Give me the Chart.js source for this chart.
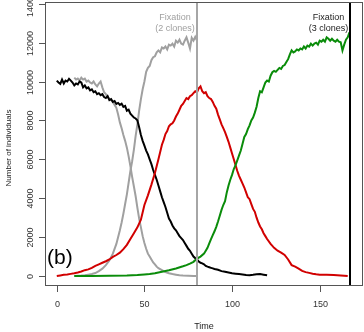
<!DOCTYPE html>
<html><head><meta charset="utf-8">
<script src="https://cdn.jsdelivr.net/npm/chart.js@4/dist/chart.umd.min.js"></script>
<style>html,body{margin:0;padding:0;background:#fff}#wrap{width:364px;height:332px}</style>
</head><body><div id="wrap"><canvas id="c" width="364" height="332"></canvas></div>
<script>
// ---- data ----
const blackTime = [0,1,2,3,4,5,6,7,8,9,10,11,12,13,14,15,16,17,18,19,20,21,22,23,24,25,26,27,28,29,30,31,32,33,34,35,36,37,38,39,40,41,42,43,44,45,46,47,48,49,50,51,52,53,54,55,56,57,58,59,60,61,62,63,64,65,66,67,68,69,70,71,72,73,74,75,76,77,78,79,80,81,82,83,84,85,86,87,88,89,90,92,94,96,98,100,102,104,106,108,110,112,114,116,118,120];
const blackCount = [10050,9950,9880,10100,9900,10050,10000,10140,10050,9950,9800,9900,9850,10000,9950,9700,9800,9650,9700,9550,9600,9450,9500,9350,9400,9300,9350,9200,9150,9250,9050,9100,8950,9000,8850,8900,8800,8860,8700,8750,8500,8550,8350,8250,8150,8100,8000,7650,7250,6950,6700,6450,6250,6000,5750,5450,5200,4950,4650,4350,4050,3800,3550,3250,2950,2800,2600,2450,2350,2200,2050,1950,1850,1700,1550,1400,1300,1150,1000,920,850,750,680,650,600,520,480,450,420,390,360,320,250,220,180,140,120,100,80,50,40,60,90,100,70,40];

const greyDownTime = [10,11,12,13,14,15,16,17,18,19,20,21,22,23,24,25,26,27,28,29,30,31,32,33,34,35,36,37,38,39,40,41,42,43,44,45,46,47,48,49,50,51,52,53,54,55,56,57,58,60,62,64,66,68,70,72,75,78,80];
const greyDownCount = [10200,10100,10150,10050,10200,10100,10150,10000,10050,9950,9900,10000,9850,9750,9900,10000,9700,9450,9350,9200,9100,9050,8950,8800,8650,8300,7900,7600,7250,6950,6600,6150,5650,5100,4600,4100,3500,2950,2500,2050,1700,1400,1150,1000,850,700,600,480,400,300,200,140,100,70,40,20,10,0,0];

const greyUpTime = [10,12,14,16,18,20,22,24,26,28,30,32,34,36,37,38,39,40,41,42,43,44,45,46,47,48,49,50,51,52,53,54,55,56,57,58,59,60,61,62,63,64,65,66,67,68,69,70,71,72,73,74,75,76,77,78,79,80];
const greyUpCount = [0,10,20,40,70,100,150,250,380,560,800,1150,1650,2350,2750,3200,3700,4200,4800,5400,5900,6500,7200,7800,8500,9100,9600,10000,10500,10700,10800,11100,11250,11300,11500,11600,11500,11750,11700,11800,11650,11900,11850,11950,11800,12100,12000,12150,11950,11900,12100,12270,12000,11700,12250,12100,12300,12100];

const redTime = [0,2,4,6,8,10,12,14,16,18,20,22,24,26,28,30,32,34,36,38,40,42,44,46,48,50,52,54,56,58,60,61,62,63,64,65,66,67,68,69,70,71,72,73,74,75,76,77,78,79,80,81,82,83,84,85,86,87,88,89,90,91,92,93,94,95,96,97,98,99,100,101,102,103,104,105,106,107,108,109,110,111,112,113,114,115,116,117,118,119,120,122,124,126,128,130,132,134,136,138,140,142,144,146,148,150,154,158,162,166];
const redCount = [0,30,60,80,110,140,180,230,300,340,420,520,600,680,760,850,980,1080,1200,1380,1600,1900,2200,2500,2900,3650,4150,4700,5300,6000,6750,7000,7300,7450,7700,7800,7850,8000,8200,8350,8550,8750,8850,9000,9150,9100,9250,9300,9400,9500,9450,9650,9750,9500,9400,9450,9250,9150,9100,8950,8750,8600,8300,8050,7800,7600,7400,7150,6900,6600,6300,6000,5700,5400,5150,4950,4750,4550,4300,4050,3950,3700,3450,3300,3000,2750,2550,2400,2200,2050,1900,1650,1450,1300,1200,1080,850,560,480,380,260,200,160,120,90,70,60,50,30,0];

const greenTime = [10,20,30,40,46,50,53,56,60,64,68,72,74,76,78,80,82,84,85,86,87,88,89,90,91,92,93,94,95,96,97,98,99,100,101,102,103,104,105,106,107,108,109,110,111,112,113,114,115,116,117,118,119,120,121,122,123,124,125,126,127,128,129,130,131,132,133,134,135,136,137,138,139,140,141,142,143,144,145,146,147,148,149,150,151,152,153,154,155,156,157,158,159,160,161,162,163,164,165,166,167];
const greenCount = [0,0,10,20,50,80,100,140,220,300,390,500,560,640,730,900,1000,1150,1300,1450,1680,1900,2100,2300,2530,2800,3100,3400,3650,3850,4300,4650,4950,5200,5500,5700,5950,6200,6450,6800,7150,7300,7550,7750,8000,8150,8400,8700,9150,9500,9450,9700,9950,10050,10000,10300,10480,10550,10500,10600,10700,10650,10800,10850,11000,11150,11400,11600,11500,11550,11650,11600,11700,11650,11800,11700,11850,11800,11950,11850,11950,12000,11900,12100,12050,12150,12050,12270,12200,12100,12200,12100,12050,12150,12050,12020,11600,11900,12150,12270,12530];

const xTicks = [0, 50, 100, 150];
const yTicks = [0, 2000, 4000, 6000, 8000, 10000, 12000, 14000];
const fixationTimes = [80, 167.5];
const fixationColors = ['#a6a6a6', '#000000'];
const fixationLabelTimes = [67.5, 155];
const fixationLabels = [['Fixation', '(2 clones)'], ['Fixation', '(3 clones)']];
const xTitle = 'Time';
const yTitle = 'Number of individuals';
const panelLabel = '(b)';

const pts = (t, n) => t.map((v, i) => ({x: v, y: n[i]}));
const FONT = '"Liberation Sans", Arial, sans-serif';

const decor = {
  id: 'decor',
  afterDatasetsDraw(chart) {
    const {ctx, chartArea: a, scales: {x, y}} = chart;
    ctx.save();
    // fixation lines
    fixationTimes.forEach((t, i) => {
      const px = Math.round(x.getPixelForValue(t)) ;
      ctx.strokeStyle = fixationColors[i];
      ctx.lineWidth = 2;
      ctx.beginPath(); ctx.moveTo(px, a.top); ctx.lineTo(px, a.bottom); ctx.stroke();
    });
    // fixation labels
    ctx.font = '9px ' + FONT;
    ctx.textAlign = 'center'; ctx.textBaseline = 'alphabetic';
    fixationLabels.forEach((lines, i) => {
      const px = x.getPixelForValue(fixationLabelTimes[i]);
      ctx.fillStyle = i === 0 ? '#a0a0a0' : '#222';
      lines.forEach((s, j) => ctx.fillText(s, px, 19.5 + j * 11));
    });
    // box
    ctx.strokeStyle = '#555'; ctx.lineWidth = 1;
    ctx.strokeRect(a.left + 0.5, a.top + 0.5, a.right - a.left - 1, a.bottom - a.top - 1);
    // x ticks
    ctx.fillStyle = '#333';
    ctx.font = '9px ' + FONT;
    ctx.textAlign = 'center'; ctx.textBaseline = 'alphabetic';
    xTicks.forEach(v => {
      const px = Math.round(x.getPixelForValue(v)) + 0.5;
      ctx.beginPath(); ctx.moveTo(px, a.bottom); ctx.lineTo(px, a.bottom + 6); ctx.stroke();
      ctx.fillText(String(v), px, 307);
    });
    // y ticks
    yTicks.forEach(v => {
      const py = Math.round(y.getPixelForValue(v)) + 0.5;
      ctx.beginPath(); ctx.moveTo(a.left, py); ctx.lineTo(a.left - 6, py); ctx.stroke();
      ctx.save(); ctx.translate(33, py); ctx.rotate(-Math.PI / 2);
      ctx.textAlign = 'center'; ctx.textBaseline = 'alphabetic';
      ctx.fillText(String(v), 0, 0);
      ctx.restore();
    });
    // titles
    ctx.fillStyle = '#222';
    ctx.fillText(xTitle, (a.left + a.right) / 2, 329);
    ctx.save(); ctx.translate(11, (a.top + a.bottom) / 2 + 4); ctx.rotate(-Math.PI / 2);
    ctx.font = '8px ' + FONT; ctx.textAlign = 'center';
    ctx.fillText(yTitle, 0, 0);
    ctx.restore();
    // panel label
    ctx.font = '21px ' + FONT; ctx.textAlign = 'left'; ctx.fillStyle = '#000';
    ctx.fillText(panelLabel, a.left + 2, 264);
    ctx.restore();
  }
};

const ds = (label, t, n, color) => ({label, data: pts(t, n), borderColor: color, borderWidth: 2, pointRadius: 0, tension: 0, fill: false});

new Chart(document.getElementById('c'), {
  type: 'line',
  data: {datasets: [
    ds('green', greenTime, greenCount, '#0a8c0a'),
    ds('red', redTime, redCount, '#d10000'),
    ds('black', blackTime, blackCount, '#000000'),
    ds('grey up', greyUpTime, greyUpCount, '#a0a0a0'),
    ds('grey down', greyDownTime, greyDownCount, '#a0a0a0')
  ]},
  options: {
    responsive: false, animation: false, devicePixelRatio: 1,
    layout: {padding: {left: 45, right: 1, top: 2, bottom: 46}},
    plugins: {legend: {display: false}, tooltip: {enabled: false}},
    scales: {
      x: {type: 'linear', min: -6.72, max: 174.72, display: false},
      y: {type: 'linear', min: -514, max: 14090, display: false}
    }
  },
  plugins: [decor]
});
</script></body></html>
